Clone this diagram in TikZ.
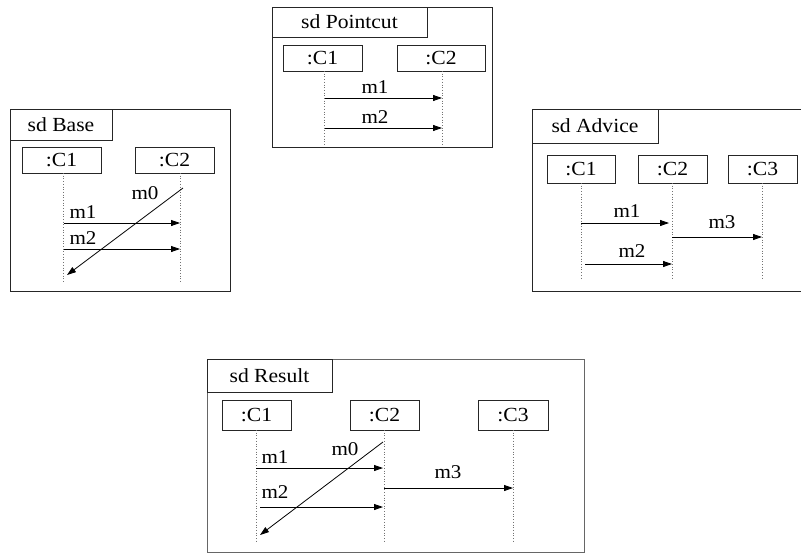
\documentclass[tikz,border=0pt]{standalone}
\usepackage{fontspec}
\setmainfont{Liberation Serif}[FakeStretch=1.08]
\usetikzlibrary{arrows.meta}
\begin{document}
\begin{tikzpicture}[x=1pt,y=-1pt,
  frame/.style={draw=black!85, line width=0.9pt},
  titlebox/.style={draw=black!85, line width=0.9pt},
  objbox/.style={draw=black!85, line width=0.9pt, inner sep=0pt, font=\fontsize{20}{22}\selectfont},
  lifeline/.style={draw=black!55, dotted, line width=0.7pt},
  msg/.style={draw=black, line width=0.8pt, -{Triangle[length=9pt,width=6pt]}},
  lbl/.style={inner sep=0pt, font=\fontsize{19.5}{21}\selectfont},
  ttl/.style={inner sep=0pt, font=\fontsize{20}{22}\selectfont}
]
\useasboundingbox (0,0) rectangle (801,555);
\fill[white] (0,0) rectangle (801,555);

% ---------------- sd Base ----------------
\draw[frame] (10,109) rectangle (230,291);
\draw[titlebox] (10,109) rectangle (112,140);
\node[ttl] (bt) at (61,125) {sd Base};
\node[objbox, minimum width=79pt, minimum height=26pt] (bc1) at (61.5,160) {:C1};
\node[objbox, minimum width=79pt, minimum height=26pt] (bc2) at (174.5,160) {:C2};
\coordinate (bl1t) at (63,173); \coordinate (bl1b) at (63,282);
\coordinate (bl2t) at (180,173); \coordinate (bl2b) at (180,282);
\draw[lifeline] (bl1t) -- (bl1b);
\draw[lifeline] (bl2t) -- (bl2b);
\coordinate (bm0s) at (183,188); \coordinate (bm0e) at (67,275);
\draw[msg] (bm0s) -- (bm0e);
\node[lbl] (bm0) at (145,193) {m0};
\coordinate (bm1s) at (64,223); \coordinate (bm1e) at (180,223);
\draw[msg] (bm1s) -- (bm1e);
\node[lbl] (bm1) at (83,212) {m1};
\coordinate (bm2s) at (64,249); \coordinate (bm2e) at (180,249);
\draw[msg] (bm2s) -- (bm2e);
\node[lbl] (bm2) at (83,238) {m2};

% ---------------- sd Pointcut ----------------
\draw[frame] (272,7) rectangle (492,147);
\draw[titlebox] (272,7) rectangle (427,37);
\node[ttl] (pt) at (349.5,22) {sd Pointcut};
\node[objbox, minimum width=79pt, minimum height=26pt] (pc1) at (322.5,58) {:C1};
\node[objbox, minimum width=88pt, minimum height=26pt] (pc2) at (441,58) {:C2};
\coordinate (pl1t) at (324,71); \coordinate (pl1b) at (324,145);
\coordinate (pl2t) at (442,71); \coordinate (pl2b) at (442,145);
\draw[lifeline] (pl1t) -- (pl1b);
\draw[lifeline] (pl2t) -- (pl2b);
\coordinate (pm1s) at (325,98); \coordinate (pm1e) at (442,98);
\draw[msg] (pm1s) -- (pm1e);
\node[lbl] (pm1) at (375,87) {m1};
\coordinate (pm2s) at (325,128); \coordinate (pm2e) at (442,128);
\draw[msg] (pm2s) -- (pm2e);
\node[lbl] (pm2) at (375,117) {m2};

% ---------------- sd Advice ----------------
\draw[frame] (802,109) -- (532,109) -- (532,291) -- (802,291);
\draw[titlebox] (532,109) rectangle (658,143);
\node[ttl] (at) at (595,126) {sd Advice};
\node[objbox, minimum width=68pt, minimum height=28pt] (ac1) at (581,169) {:C1};
\node[objbox, minimum width=69pt, minimum height=28pt] (ac2) at (672.5,169) {:C2};
\node[objbox, minimum width=69pt, minimum height=28pt] (ac3) at (762.5,169) {:C3};
\coordinate (al1t) at (581,183); \coordinate (al1b) at (581,278);
\coordinate (al2t) at (672,183); \coordinate (al2b) at (672,278);
\coordinate (al3t) at (762,183); \coordinate (al3b) at (762,278);
\draw[lifeline] (al1t) -- (al1b);
\draw[lifeline] (al2t) -- (al2b);
\draw[lifeline] (al3t) -- (al3b);
\coordinate (am1s) at (581,223); \coordinate (am1e) at (669,223);
\draw[msg] (am1s) -- (am1e);
\node[lbl] (am1) at (627,211) {m1};
\coordinate (am3s) at (672,237); \coordinate (am3e) at (762,237);
\draw[msg] (am3s) -- (am3e);
\node[lbl] (am3) at (722,222) {m3};
\coordinate (am2s) at (585,264); \coordinate (am2e) at (672,264);
\draw[msg] (am2s) -- (am2e);
\node[lbl] (am2) at (632,251) {m2};

% ---------------- sd Result ----------------
\draw[frame, draw=black!60] (207,359) rectangle (584,552);
\draw[titlebox] (207,359) rectangle (332,392);
\node[ttl] (rt) at (269.5,376) {sd Result};
\node[objbox, minimum width=69pt, minimum height=30pt] (rc1) at (256.5,415) {:C1};
\node[objbox, minimum width=69pt, minimum height=30pt] (rc2) at (384.5,415) {:C2};
\node[objbox, minimum width=70pt, minimum height=30pt] (rc3) at (513,415) {:C3};
\coordinate (rl1t) at (256,430); \coordinate (rl1b) at (256,543);
\coordinate (rl2t) at (384,430); \coordinate (rl2b) at (384,543);
\coordinate (rl3t) at (513,430); \coordinate (rl3b) at (513,543);
\draw[lifeline] (rl1t) -- (rl1b);
\draw[lifeline] (rl2t) -- (rl2b);
\draw[lifeline] (rl3t) -- (rl3b);
\coordinate (rm0s) at (383,442); \coordinate (rm0e) at (260,535);
\draw[msg] (rm0s) -- (rm0e);
\node[lbl] (rm0) at (345,449) {m0};
\coordinate (rm1s) at (256,468); \coordinate (rm1e) at (383,468);
\draw[msg] (rm1s) -- (rm1e);
\node[lbl] (rm1) at (275,457) {m1};
\coordinate (rm3s) at (384,488); \coordinate (rm3e) at (513,488);
\draw[msg] (rm3s) -- (rm3e);
\node[lbl] (rm3) at (448,472) {m3};
\coordinate (rm2s) at (260,507); \coordinate (rm2e) at (383,507);
\draw[msg] (rm2s) -- (rm2e);
\node[lbl] (rm2) at (275,492) {m2};
\end{tikzpicture}
\end{document}
